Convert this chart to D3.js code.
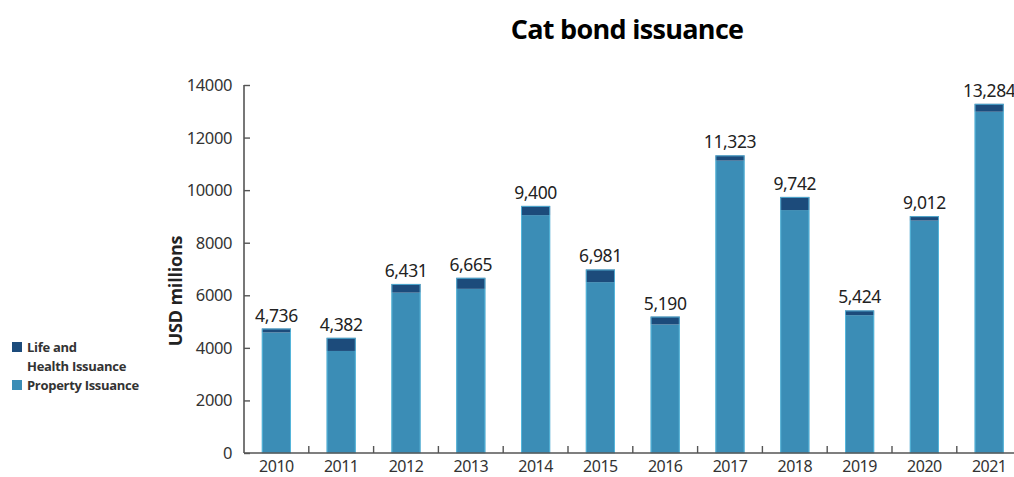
<!DOCTYPE html>
<html>
<head>
<meta charset="utf-8">
<script src="https://cdn.jsdelivr.net/npm/d3@7"></script>
<style>
  html, body { margin: 0; padding: 0; background: #fff; }
  svg { display: block; }
</style>
</head>
<body>
<svg id="chart" width="1014" height="477"></svg>
<script>
// Annual catastrophe bond issuance, USD millions
const years = ["2010", "2011", "2012", "2013", "2014", "2015", "2016", "2017", "2018", "2019", "2020", "2021"];
const totalIssuance = [4736, 4382, 6431, 6665, 9400, 6981, 5190, 11323, 9742, 5424, 9012, 13284];
const lifeHealthIssuance = [150, 500, 330, 420, 350, 480, 300, 200, 500, 180, 170, 300];
const propertyIssuance = totalIssuance.map((t, i) => t - lifeHealthIssuance[i]);
const yTicks = [0, 2000, 4000, 6000, 8000, 10000, 12000, 14000];

const colors = { property: "#3b8db6", life: "#1c4b7b", edge: "#5cc0e4" };

const svg = d3.select("#chart");
const axisLeft = 244, axisBottom = 453, axisTop = 85;
const step = 64.8;

const x = d3.scaleBand()
  .domain(years)
  .range([axisLeft, axisLeft + step * years.length])
  .paddingInner(0.55)
  .paddingOuter(0.275);

const y = d3.scaleLinear().domain([0, 14000]).range([axisBottom, axisTop]);

// Title
svg.append("text")
  .attr("x", 627).attr("y", 39)
  .attr("text-anchor", "middle")
  .attr("font-family", "Open Sans, sans-serif")
  .attr("font-weight", "bold")
  .attr("font-size", 27)
  .attr("letter-spacing", -0.7)
  .attr("fill", "#000")
  .text("Cat bond issuance");

// Stacked bars: property at the base, life & health on top
const rows = years.map((yr, i) => ({ year: yr, property: propertyIssuance[i], life: lifeHealthIssuance[i], total: totalIssuance[i] }));
const stack = d3.stack().keys(["property", "life"])(rows);

const g = svg.append("g");
stack.forEach(layer => {
  g.selectAll(null)
    .data(layer)
    .join("rect")
    .attr("x", d => x(d.data.year))
    .attr("width", x.bandwidth())
    .attr("y", d => y(d[1]))
    .attr("height", d => y(d[0]) - y(d[1]))
    .attr("fill", layer.key === "property" ? colors.property : colors.life);
});
// light outline on each bar
g.selectAll(null)
  .data(rows)
  .join("rect")
  .attr("x", d => x(d.year) + 0.5)
  .attr("width", x.bandwidth() - 1)
  .attr("y", d => y(d.total) + 0.5)
  .attr("height", d => y(0) - y(d.total) - 0.5)
  .attr("fill", "none")
  .attr("stroke", colors.edge)
  .attr("stroke-width", 1)
  .attr("stroke-opacity", 0.8);

// Total labels
svg.append("g").selectAll("text")
  .data(rows)
  .join("text")
  .attr("x", d => x(d.year) + x.bandwidth() / 2)
  .attr("y", d => y(d.total) - 7)
  .attr("text-anchor", "middle")
  .attr("font-family", "Noto Sans, sans-serif")
  .attr("font-size", 17.5)
  .attr("letter-spacing", -0.4)
  .attr("fill", "#222")
  .text(d => d3.format(",")(d.total));

// Y axis (ticks point inward)
const yAxis = svg.append("g")
  .attr("transform", `translate(${axisLeft},0)`)
  .call(d3.axisRight(y).tickValues(yTicks).tickSize(6).tickFormat(""));
yAxis.select(".domain").remove();
yAxis.selectAll("line").attr("stroke", "#555").attr("stroke-width", 1.4);
svg.append("line")
  .attr("x1", axisLeft).attr("x2", axisLeft)
  .attr("y1", y(14000)).attr("y2", axisBottom)
  .attr("stroke", "#555").attr("stroke-width", 1.6);

svg.append("g").selectAll("text")
  .data(yTicks)
  .join("text")
  .attr("x", 232)
  .attr("y", d => y(d) + 6)
  .attr("text-anchor", "end")
  .attr("font-family", "Noto Sans, sans-serif")
  .attr("font-size", 16.5)
  .attr("letter-spacing", -0.4)
  .attr("fill", "#333")
  .text(d => d);

// X axis
svg.append("line")
  .attr("x1", axisLeft).attr("x2", 1014)
  .attr("y1", axisBottom).attr("y2", axisBottom)
  .attr("stroke", "#555").attr("stroke-width", 1.6);
svg.append("g").selectAll("line")
  .data(years.slice(1))
  .join("line")
  .attr("x1", d => x(d) - x.step() * x.paddingInner() / 2)
  .attr("x2", d => x(d) - x.step() * x.paddingInner() / 2)
  .attr("y1", axisBottom)
  .attr("y2", axisBottom - 7)
  .attr("stroke", "#555").attr("stroke-width", 1.4);

svg.append("g").selectAll("text")
  .data(years)
  .join("text")
  .attr("x", d => x(d) + x.bandwidth() / 2)
  .attr("y", 472)
  .attr("text-anchor", "middle")
  .attr("font-family", "Noto Sans, sans-serif")
  .attr("font-size", 16)
  .attr("letter-spacing", -0.5)
  .attr("fill", "#333")
  .text(d => d);

// Y axis title
svg.append("text")
  .attr("transform", "translate(182,291) rotate(-90)")
  .attr("text-anchor", "middle")
  .attr("font-family", "Open Sans, sans-serif")
  .attr("font-weight", "bold")
  .attr("font-size", 18)
  .attr("letter-spacing", -0.2)
  .attr("fill", "#222")
  .text("USD millions");

// Legend
const legend = svg.append("g").attr("font-family", "Open Sans, sans-serif")
  .attr("font-weight", "bold").attr("font-size", 13).attr("fill", "#333");
legend.append("rect").attr("x", 12).attr("y", 342).attr("width", 10).attr("height", 10).attr("fill", colors.life);
legend.append("text").attr("x", 27).attr("y", 352).attr("letter-spacing", -0.3).text("Life and");
legend.append("text").attr("x", 27).attr("y", 371).attr("letter-spacing", -0.3).text("Health Issuance");
legend.append("rect").attr("x", 12).attr("y", 380).attr("width", 10).attr("height", 10).attr("fill", colors.property);
legend.append("text").attr("x", 27).attr("y", 390).attr("letter-spacing", -0.3).text("Property Issuance");
</script>
</body>
</html>
